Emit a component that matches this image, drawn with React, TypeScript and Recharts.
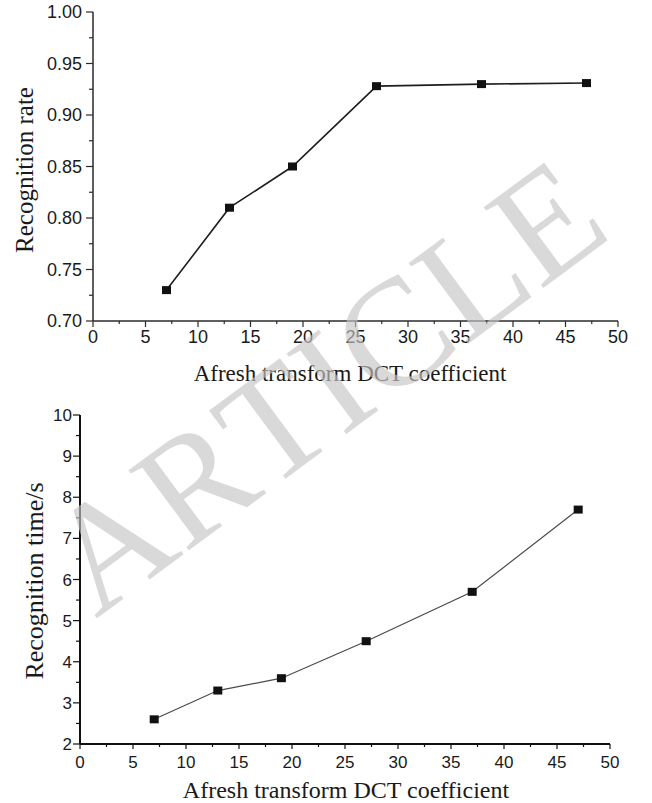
import React from 'react';
import { LineChart, Line, XAxis, YAxis, Label } from 'recharts';

// ---------- data ----------
const dctCoefficients = [7, 13, 19, 27, 37, 47];
const recognitionRate = [0.73, 0.81, 0.85, 0.928, 0.93, 0.931];
const recognitionTime = [2.6, 3.3, 3.6, 4.5, 5.7, 7.7];

const xMajorTicks = [0, 5, 10, 15, 20, 25, 30, 35, 40, 45, 50];
const xMinorTicks = [2.5, 7.5, 12.5, 17.5, 22.5, 27.5, 32.5, 37.5, 42.5, 47.5];

const rateMajorTicks = [0.7, 0.75, 0.8, 0.85, 0.9, 0.95, 1.0];
const rateMinorTicks = [0.725, 0.775, 0.825, 0.875, 0.925, 0.975];

const timeMajorTicks = [2, 3, 4, 5, 6, 7, 8, 9, 10];
const timeMinorTicks = [2.5, 3.5, 4.5, 5.5, 6.5, 7.5, 8.5, 9.5];

const xTitle = 'Afresh transform DCT coefficient';
const rateTitle = 'Recognition rate';
const timeTitle = 'Recognition time/s';
const watermarkLetters = ['A', 'R', 'T', 'I', 'C', 'L', 'E'];
// advance widths of the serif capitals (em units), used to lay the watermark letters along its baseline
const watermarkAdvances = [0.722, 0.667, 0.611, 0.333, 0.667, 0.611, 0.611];

const rateData = dctCoefficients.map((x, i) => ({ x, y: recognitionRate[i] }));
const timeData = dctCoefficients.map((x, i) => ({ x, y: recognitionTime[i] }));

const allX = [...xMajorTicks, ...xMinorTicks].sort((a, b) => a - b);
const allRate = [...rateMajorTicks, ...rateMinorTicks].sort((a, b) => a - b);
const allTime = [...timeMajorTicks, ...timeMinorTicks].sort((a, b) => a - b);

const SANS = '"Liberation Sans", Arial, sans-serif';
const SERIF = '"Liberation Serif", "Times New Roman", serif';

const isIn = (arr: number[], v: number) => arr.some((m) => Math.abs(m - v) < 1e-6);

function makeXTick(majors: number[], majorLen: number, minorLen: number, labelDy: number, fontSize: number, color: string) {
  return (props: any) => {
    const { x, y, payload } = props;
    const major = isIn(majors, payload.value);
    return (
      <g>
        <line x1={x} x2={x} y1={y} y2={y + (major ? majorLen : minorLen)} stroke={color} strokeWidth={1.2} />
        {major && (
          <text x={x} y={y + labelDy} textAnchor="middle" fontFamily={SANS} fontSize={fontSize} fill="#1a1a1a">
            {String(payload.value)}
          </text>
        )}
      </g>
    );
  };
}

function makeYTick(majors: number[], majorLen: number, minorLen: number, labelGap: number, fontSize: number, fmt: (v: number) => string, color: string) {
  return (props: any) => {
    const { x, y, payload } = props;
    const major = isIn(majors, payload.value);
    return (
      <g>
        <line x1={x} x2={x - (major ? majorLen : minorLen)} y1={y} y2={y} stroke={color} strokeWidth={1.2} />
        {major && (
          <text x={x - labelGap} y={y} dy="0.36em" textAnchor="end" fontFamily={SANS} fontSize={fontSize} fill="#1a1a1a">
            {fmt(payload.value)}
          </text>
        )}
      </g>
    );
  };
}

const SquareDot = (w: number, h: number) => (props: any) => {
  const { cx, cy, index } = props;
  return <rect key={`d-${index}`} x={cx - w / 2} y={cy - h / 2} width={w} height={h} fill="#111" />;
};

function Watermark() {
  const F = 153;
  const total = watermarkAdvances.reduce((a, b) => a + b, 0);
  let acc = 0;
  return (
    <svg width={652} height={803} style={{ position: 'absolute', left: 0, top: 0, pointerEvents: 'none' }}>
      <g transform="translate(615,235) rotate(-36.5)">
        {watermarkLetters.map((ch, i) => {
          const x = (acc - total) * F;
          acc += watermarkAdvances[i];
          return (
            <text key={i} x={x} y={0} fontFamily={SERIF} fontSize={F} fill="#c4c4c4" fillOpacity={0.65}>
              {ch}
            </text>
          );
        })}
      </g>
    </svg>
  );
}

export default function App() {
  return (
    <div style={{ position: 'absolute', left: 0, top: 0, width: 652, height: 803, background: '#fff', overflow: 'hidden' }}>
      {/* Top chart */}
      <div style={{ position: 'absolute', left: 0, top: 0 }}>
        <LineChart width={652} height={390} data={rateData} margin={{ top: 12, right: 34, bottom: 39, left: 33 }}>
          <XAxis
            dataKey="x"
            type="number"
            domain={[0, 50]}
            ticks={allX}
            interval={0}
            height={30}
            tickSize={0}
            tickMargin={0}
            tickLine={false}
            axisLine={{ stroke: '#2a2a2a', strokeWidth: 1.5 }}
            tick={makeXTick(xMajorTicks, 6, 3, 22, 18, '#2a2a2a')}
          >
            <Label
              content={() => (
                <text x={350} y={381} textAnchor="middle" fontFamily={SERIF} fontSize={23} fill="#1a1a1a">
                  {xTitle}
                </text>
              )}
            />
          </XAxis>
          <YAxis
            type="number"
            domain={[0.7, 1.0]}
            ticks={allRate}
            interval={0}
            width={60}
            tickSize={0}
            tickMargin={0}
            tickLine={false}
            axisLine={{ stroke: '#2a2a2a', strokeWidth: 1.5 }}
            tick={makeYTick(rateMajorTicks, 7, 4, 11, 18, (v) => v.toFixed(2), '#2a2a2a')}
          >
            <Label
              content={() => (
                <text transform="translate(33,170) rotate(-90)" x={0} y={0} textAnchor="middle" fontFamily={SERIF} fontSize={25} fill="#1a1a1a">
                  {rateTitle}
                </text>
              )}
            />
          </YAxis>
          <Line
            type="linear"
            dataKey="y"
            stroke="#1e1e1e"
            strokeWidth={1.6}
            dot={SquareDot(9, 8)}
            activeDot={false}
            isAnimationActive={false}
          />
        </LineChart>
      </div>

      {/* Bottom chart */}
      <div style={{ position: 'absolute', left: 0, top: 390 }}>
        <LineChart width={652} height={413} data={timeData} margin={{ top: 25, right: 42, bottom: 29, left: 30 }}>
          <XAxis
            dataKey="x"
            type="number"
            domain={[0, 50]}
            ticks={allX}
            interval={0}
            height={30}
            tickSize={0}
            tickMargin={0}
            tickLine={false}
            axisLine={{ stroke: '#111', strokeWidth: 2 }}
            tick={makeXTick(xMajorTicks, 5, 3, 24, 17, '#111')}
          >
            <Label
              content={() => (
                <text x={346} y={408} textAnchor="middle" fontFamily={SERIF} fontSize={24} fill="#1a1a1a">
                  {xTitle}
                </text>
              )}
            />
          </XAxis>
          <YAxis
            type="number"
            domain={[2, 10]}
            ticks={allTime}
            interval={0}
            width={50}
            tickSize={0}
            tickMargin={0}
            tickLine={false}
            axisLine={{ stroke: '#111', strokeWidth: 2 }}
            tick={makeYTick(timeMajorTicks, 7, 4, 8, 17, (v) => String(v), '#111')}
          >
            <Label
              content={() => (
                <text transform="translate(43,191) rotate(-90)" x={0} y={0} textAnchor="middle" fontFamily={SERIF} fontSize={26} fill="#1a1a1a">
                  {timeTitle}
                </text>
              )}
            />
          </YAxis>
          <Line
            type="linear"
            dataKey="y"
            stroke="#4a4a4a"
            strokeWidth={1.2}
            dot={SquareDot(9, 8)}
            activeDot={false}
            isAnimationActive={false}
          />
        </LineChart>
      </div>

      <Watermark />
    </div>
  );
}
